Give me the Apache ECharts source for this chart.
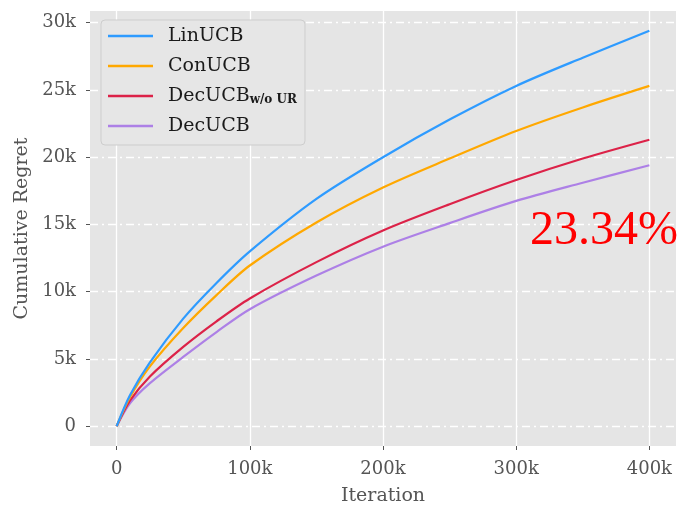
<!DOCTYPE html>
<html>
<head>
<meta charset="utf-8">
<script src="https://cdn.jsdelivr.net/npm/echarts@6/dist/echarts.min.js"></script>
<style>
html,body{margin:0;padding:0;background:#fff;}
#chart{width:681px;height:508px;}
</style>
</head>
<body>
<div id="chart"></div>
<script>
// Iteration values (x)
var iterations = [0, 10000, 25000, 50000, 75000, 100000, 150000, 200000, 250000, 300000, 350000, 400000];
// Cumulative regret per method
var linUCB    = [0, 2300, 4750, 8000, 10650, 13000, 16900, 20000, 22800, 25300, 27400, 29400];
var conUCB    = [0, 2150, 4450, 7300, 9750, 11950, 15150, 17750, 19900, 21950, 23700, 25300];
var decUCBwo  = [0, 1900, 3700, 5900, 7800, 9500, 12200, 14550, 16500, 18300, 19900, 21300];
var decUCB    = [0, 1700, 3200, 5150, 7000, 8700, 11200, 13350, 15100, 16750, 18100, 19400];
var seriesNames = ['LinUCB', 'ConUCB', 'DecUCB_wo', 'DecUCB'];
var xTicks = [0, 100000, 200000, 300000, 400000];
var yTicks = [0, 5000, 10000, 15000, 20000, 25000, 30000];
var annotationText = '23.34%';

function pairs(ys){ return iterations.map(function(x,i){ return [x, ys[i]]; }); }
function kfmt(v){ return v === 0 ? '0' : (v/1000) + 'k'; }

var colors = ['#2e9bff', '#ffa800', '#dc2248', '#ad80e6'];
var allData = [linUCB, conUCB, decUCBwo, decUCB];

var chart = echarts.init(document.getElementById('chart'), null, {renderer:'canvas'});
var serif = 'DejaVu Serif';
chart.setOption({
  animation: false,
  backgroundColor: '#ffffff',
  grid: { left: 90, right: 5, top: 11, bottom: 62, show: true, backgroundColor: '#e5e5e5', borderWidth: 0,
          containLabel: false, outerBoundsMode: 'none' },
  legend: {
    orient: 'vertical', left: 101, top: 20,
    padding: [6, 8, 9, 7],
    icon: 'rect',
    itemWidth: 45, itemHeight: 2.5, itemGap: 10,
    backgroundColor: '#e6e6e6', borderColor: '#cdcdcd', borderWidth: 1, borderRadius: 4,
    data: seriesNames,
    formatter: function(n){ return n === 'DecUCB_wo' ? 'DecUCB{sub|w/o UR}' : n; },
    textStyle: {
      fontFamily: serif, fontSize: 19, color: '#1a1a1a', lineHeight: 20, padding: [0,0,0,10],
      rich: { sub: { fontFamily: serif, fontSize: 12, fontWeight: 'bold', color: '#1a1a1a', padding: [8,0,0,0], lineHeight: 20 } }
    }
  },
  xAxis: {
    type: 'value', min: -20000, max: 420000,
    name: 'Iteration', nameLocation: 'middle', nameGap: 41,
    nameTextStyle: { fontFamily: serif, fontSize: 19, color: '#555' },
    axisLine: { show: false, onZero: false },
    axisTick: { show: true, length: 4, lineStyle: { color: '#555' }, customValues: xTicks },
    axisLabel: { customValues: xTicks, formatter: kfmt, margin: 14, fontFamily: serif, fontSize: 18, color: '#555' },
    splitLine: { show: true, lineStyle: { color: '#ffffff', width: 1.3, type: 'solid' } }
  },
  yAxis: {
    type: 'value', min: -1470, max: 30870,
    name: 'Cumulative Regret', nameLocation: 'middle', nameGap: 54,
    nameTextStyle: { fontFamily: serif, fontSize: 19, color: '#555' },
    axisLine: { show: false, onZero: false },
    axisTick: { show: true, length: 4, lineStyle: { color: '#555' }, customValues: yTicks },
    axisLabel: { customValues: yTicks, formatter: kfmt, margin: 14, fontFamily: serif, fontSize: 18, color: '#555' },
    splitLine: { show: true, lineStyle: { color: '#ffffff', width: 1.3, type: [8, 4, 2, 4] } }
  },
  series: seriesNames.map(function(n, i){
    return {
      name: n, type: 'line', data: pairs(allData[i]), smooth: 0.3,
      symbol: 'none', showSymbol: false,
      itemStyle: { color: colors[i] },
      lineStyle: { color: colors[i], width: 2.2 },
      z: 10 - i
    };
  }),
  graphic: [{
    type: 'text', left: 530, top: 207, z: 100,
    style: { text: annotationText, font: '48px "Liberation Serif"', fill: '#ff0000' }
  }]
});
</script>
</body>
</html>
